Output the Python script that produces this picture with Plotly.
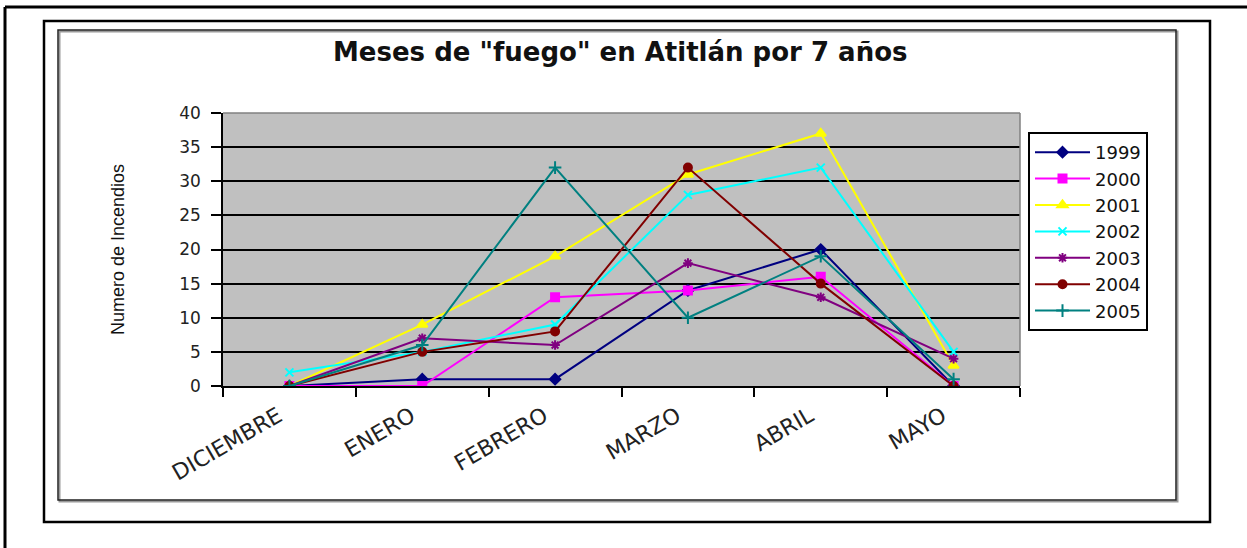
import plotly.graph_objects as go

W, H = 1247, 548

months = ["DICIEMBRE", "ENERO", "FEBRERO", "MARZO", "ABRIL", "MAYO"]
years = ["1999", "2000", "2001", "2002", "2003", "2004", "2005"]
v1999 = [0, 1, 1, 14, 20, 0]
v2000 = [0, 0, 13, 14, 16, 0]
v2001 = [0, 9, 19, 31, 37, 3]
v2002 = [2, 5, 9, 28, 32, 5]
v2003 = [0, 7, 6, 18, 13, 4]
v2004 = [0, 5, 8, 32, 15, 0]
v2005 = [0, 6, 32, 10, 19, 1]
y_ticks = [0, 5, 10, 15, 20, 25, 30, 35, 40]

series_values = [v1999, v2000, v2001, v2002, v2003, v2004, v2005]
colors = ["#000080", "#FF00FF", "#FFFF00", "#00FFFF", "#800080", "#800000", "#008080"]
symbols = ["diamond", "square", "triangle-up", "x-thin-open", "asterisk-open", "circle", "cross-thin-open"]
msizes = [8, 8, 9, 8, 8, 8, 9]


def px(x):
    return x / W


def py(y):
    return 1 - y / H


fig = go.Figure()
for name, vals, c, s, ms in zip(years, series_values, colors, symbols, msizes):
    fig.add_trace(go.Scatter(
        x=months, y=vals, name=name, mode="lines+markers",
        line=dict(color=c, width=2),
        marker=dict(color=c, symbol=s, size=ms, line=dict(color=c, width=2)),
    ))

shapes = []
shapes.append(dict(type="line", xref="paper", yref="paper", x0=px(5), y0=py(7), x1=px(1247), y1=py(7),
                   line=dict(color="black", width=3)))
shapes.append(dict(type="line", xref="paper", yref="paper", x0=px(5), y0=py(7), x1=px(5), y1=py(548),
                   line=dict(color="black", width=3)))
shapes.append(dict(type="rect", xref="paper", yref="paper", x0=px(44), y0=py(21), x1=px(1210), y1=py(522),
                   line=dict(color="black", width=2.5)))
shapes.append(dict(type="rect", xref="paper", yref="paper", x0=px(59.5), y0=py(31.5), x1=px(1177.5), y1=py(501.5),
                   line=dict(color="#999999", width=2)))
shapes.append(dict(type="rect", xref="paper", yref="paper", x0=px(58), y0=py(30), x1=px(1176), y1=py(500),
                   line=dict(color="#222222", width=1.5)))
shapes.append(dict(type="line", xref="paper", yref="paper", x0=px(223), y0=py(113), x1=px(1020), y1=py(113),
                   line=dict(color="#808080", width=1.5)))
shapes.append(dict(type="line", xref="paper", yref="paper", x0=px(1020), y0=py(113), x1=px(1020), y1=py(386),
                   line=dict(color="#808080", width=1.5)))

annotations = [
    dict(text='Meses de "fuego" en Atitlán por 7 años', xref="paper", yref="paper",
         x=px(620), y=py(52), xanchor="center", yanchor="middle", showarrow=False,
         font=dict(family="DejaVu Sans", size=26, color="#111111", weight="bold")),
    dict(text="Numero de Incendios", xref="paper", yref="paper",
         x=px(118), y=py(250), xanchor="center", yanchor="middle", showarrow=False, textangle=-90,
         font=dict(family="Liberation Sans", size=18, color="#111111")),
]

fig.update_layout(
    template="none",
    width=W, height=H,
    margin=dict(l=0, r=0, t=0, b=0, pad=0, autoexpand=False),
    paper_bgcolor="white",
    plot_bgcolor="#C0C0C0",
    shapes=shapes,
    annotations=annotations,
    showlegend=True,
    legend=dict(
        x=px(1028), y=py(132), xanchor="left", yanchor="top",
        bgcolor="white", bordercolor="black", borderwidth=2,
        font=dict(family="DejaVu Sans", size=18, color="#111111"),
        itemwidth=55,
    ),
    xaxis=dict(
        domain=[px(223), px(1020)], automargin=False,
        type="category", categoryorder="array", categoryarray=months,
        range=[-0.5, 5.5],
        tickson="boundaries", ticks="outside", ticklen=9, tickwidth=1.5, tickcolor="black",
        tickangle=-30, showgrid=False, showline=True, linecolor="black", linewidth=1.5,
        tickfont=dict(family="DejaVu Sans", size=22, color="#222222"),
        ticklabelshift=-11, ticklabelstandoff=7,
        zeroline=False,
    ),
    yaxis=dict(
        domain=[py(386), py(113)], automargin=False,
        range=[0, 40], tickvals=y_ticks, ticktext=[str(t) for t in y_ticks],
        ticks="outside", ticklen=10, tickwidth=1.5, tickcolor="black",
        showgrid=True, gridcolor="black", gridwidth=2,
        showline=True, linecolor="black", linewidth=1.5,
        tickfont=dict(family="DejaVu Sans", size=17, color="#222222"),
        ticklabelstandoff=7,
        zeroline=False,
    ),
)

fig.write_html("out.html", config={"displayModeBar": False},
               post_script="document.body.style.margin='0px';")
